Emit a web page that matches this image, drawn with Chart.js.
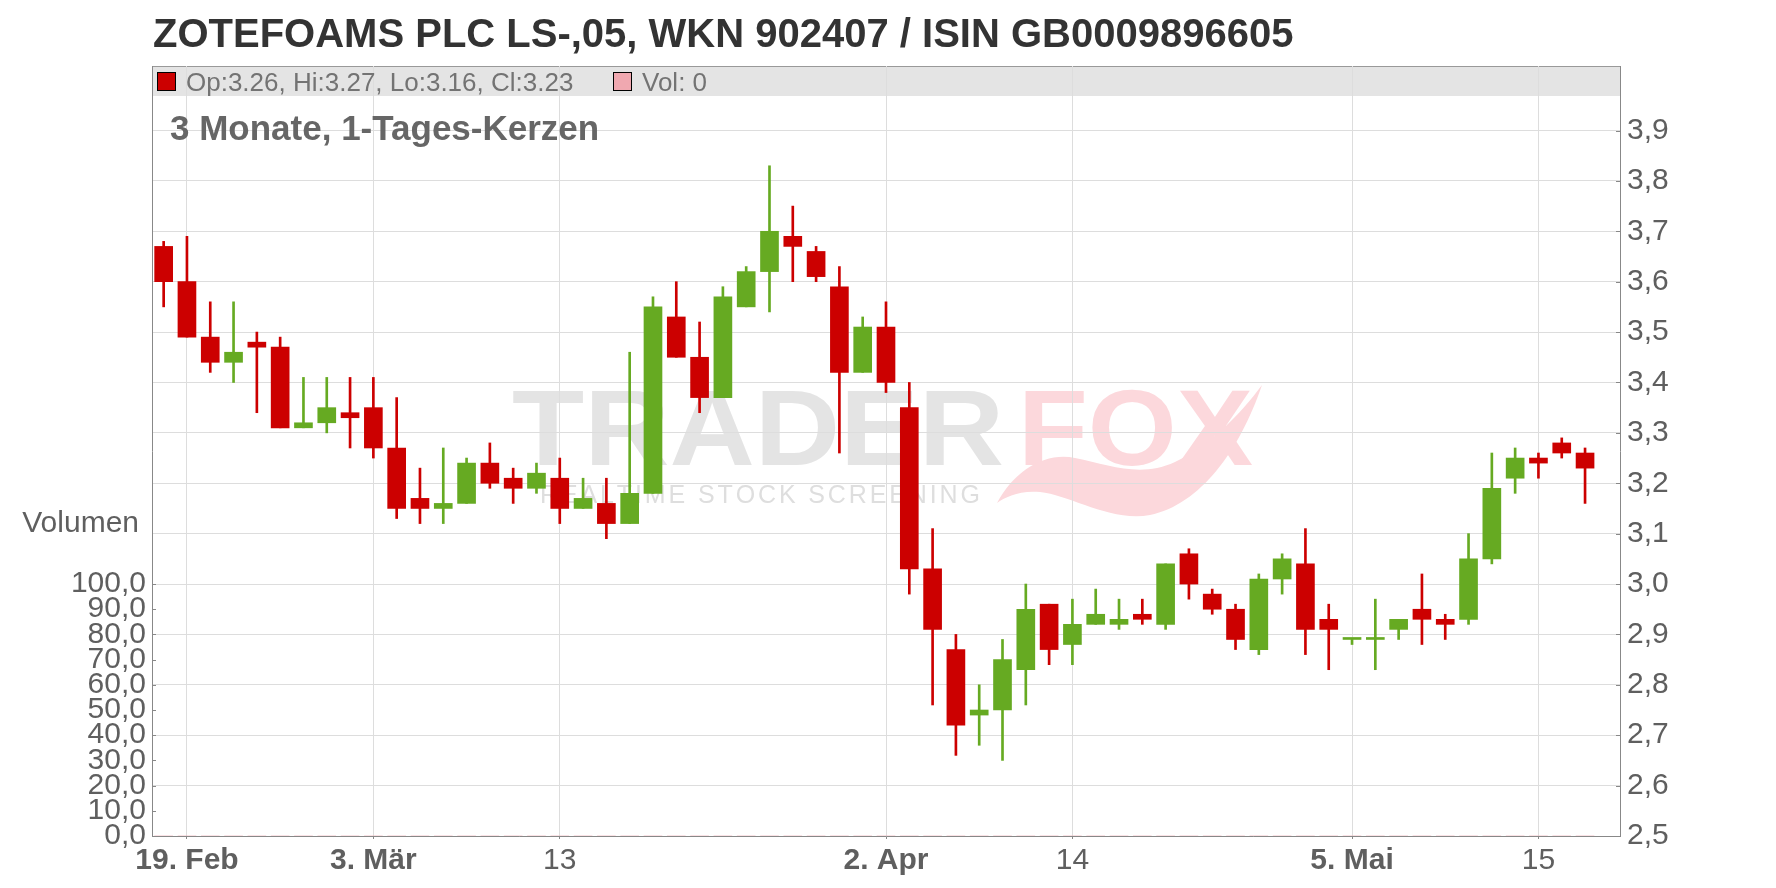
<!DOCTYPE html>
<html>
<head>
<meta charset="utf-8">
<script src="https://cdn.jsdelivr.net/npm/chart.js@4.4.1/dist/chart.umd.min.js"></script>
<style>
  html, body { margin: 0; padding: 0; background: #fff; }
  canvas { display: block; }
</style>
</head>
<body>
<canvas id="kerzen" width="1776" height="888"></canvas>
<script>
// Handelstage (18.02.2025 - 19.05.2025)
const dates = [
  "2025-02-18", "2025-02-19", "2025-02-20", "2025-02-21", "2025-02-24", "2025-02-25", "2025-02-26", "2025-02-27", "2025-02-28",
  "2025-03-03", "2025-03-04", "2025-03-05", "2025-03-06", "2025-03-07", "2025-03-10", "2025-03-11", "2025-03-12",
  "2025-03-13", "2025-03-14", "2025-03-17", "2025-03-18", "2025-03-19", "2025-03-20", "2025-03-21", "2025-03-24",
  "2025-03-25", "2025-03-26", "2025-03-27", "2025-03-28", "2025-03-31", "2025-04-01",
  "2025-04-02", "2025-04-03", "2025-04-04", "2025-04-07", "2025-04-08", "2025-04-09", "2025-04-10", "2025-04-11",
  "2025-04-14", "2025-04-15", "2025-04-16", "2025-04-17", "2025-04-22", "2025-04-23", "2025-04-24", "2025-04-25",
  "2025-04-28", "2025-04-29", "2025-04-30", "2025-05-02",
  "2025-05-05", "2025-05-06", "2025-05-07", "2025-05-08", "2025-05-09", "2025-05-12", "2025-05-13", "2025-05-14",
  "2025-05-15", "2025-05-16", "2025-05-19"
];

const opens = [
  3.67, 3.60, 3.49, 3.44, 3.48, 3.47, 3.31, 3.32, 3.34, 3.35,
  3.27, 3.17, 3.15, 3.16, 3.24, 3.21, 3.19, 3.21, 3.15, 3.16,
  3.12, 3.18, 3.53, 3.45, 3.37, 3.55, 3.62, 3.69, 3.66, 3.59,
  3.42, 3.51, 3.35, 3.03, 2.87, 2.74, 2.75, 2.83, 2.96, 2.88,
  2.92, 2.92, 2.94, 2.92, 3.06, 2.98, 2.95, 2.87, 3.01, 3.04,
  2.93, 2.89, 2.89, 2.91, 2.95, 2.93, 2.93, 3.05, 3.21, 3.25,
  3.28, 3.26
];
const highs = [
  3.68, 3.69, 3.56, 3.56, 3.50, 3.49, 3.41, 3.41, 3.41, 3.41,
  3.37, 3.23, 3.27, 3.25, 3.28, 3.23, 3.24, 3.25, 3.21, 3.21,
  3.46, 3.57, 3.60, 3.52, 3.59, 3.63, 3.83, 3.75, 3.67, 3.63,
  3.53, 3.56, 3.40, 3.11, 2.90, 2.80, 2.89, 3.00, 2.96, 2.97,
  2.99, 2.97, 2.97, 3.04, 3.07, 2.99, 2.96, 3.02, 3.06, 3.11,
  2.96, 2.89, 2.97, 2.93, 3.02, 2.94, 3.10, 3.26, 3.27, 3.26,
  3.29, 3.27
];
const lows = [
  3.55, 3.49, 3.42, 3.40, 3.34, 3.31, 3.31, 3.30, 3.27, 3.25,
  3.13, 3.12, 3.12, 3.16, 3.19, 3.16, 3.18, 3.12, 3.15, 3.09,
  3.12, 3.18, 3.45, 3.34, 3.37, 3.55, 3.54, 3.60, 3.60, 3.26,
  3.42, 3.38, 2.98, 2.76, 2.66, 2.68, 2.65, 2.76, 2.84, 2.84,
  2.92, 2.91, 2.92, 2.91, 2.97, 2.94, 2.87, 2.86, 2.98, 2.86,
  2.83, 2.88, 2.83, 2.89, 2.88, 2.89, 2.92, 3.04, 3.18, 3.21,
  3.25, 3.16
];
const closes = [
  3.60, 3.49, 3.44, 3.46, 3.47, 3.31, 3.32, 3.35, 3.33, 3.27,
  3.15, 3.15, 3.16, 3.24, 3.20, 3.19, 3.22, 3.15, 3.17, 3.12,
  3.18, 3.55, 3.45, 3.37, 3.57, 3.62, 3.70, 3.67, 3.61, 3.42,
  3.51, 3.40, 3.03, 2.91, 2.72, 2.75, 2.85, 2.95, 2.87, 2.92,
  2.94, 2.93, 2.93, 3.04, 3.00, 2.95, 2.89, 3.01, 3.05, 2.91,
  2.91, 2.89, 2.89, 2.93, 2.93, 2.92, 3.05, 3.19, 3.25, 3.24,
  3.26, 3.23
];
const volumes = [
  0, 0, 0, 0, 0, 0, 0, 0, 0, 0, 0, 0, 0, 0, 0, 0, 0, 0, 0, 0, 0,
  0, 0, 0, 0, 0, 0, 0, 0, 0, 0, 0, 0, 0, 0, 0, 0, 0, 0, 0, 0, 0,
  0, 0, 0, 0, 0, 0, 0, 0, 0, 0, 0, 0, 0, 0, 0, 0, 0, 0, 0, 0
];

// x-Achse
const tickDates = ["2025-02-19", "2025-03-03", "2025-03-13", "2025-04-02", "2025-04-14", "2025-05-05", "2025-05-15"];
const tickLabels = ["19. Feb", "3. Mär", "13", "2. Apr", "14", "5. Mai", "15"];
const tickBold = [true, true, false, true, false, true, false];

const RED = "#cc0000";
const GREEN = "#66aa22";
const GRID = "#dddddd";
const AXIS = "#888888";
const LABEL = "#5f5f5f";
const FONT = "'Liberation Sans', Arial, sans-serif";

Chart.defaults.font.family = FONT;

const labels = dates.concat([""]);
const colors = closes.map((c, i) => (c >= opens[i] ? GREEN : RED));
const fmt = v => v.toFixed(1).replace(".", ",");

function fitText(ctx, text, x, y, w) {
  const m = ctx.measureText(text).width;
  ctx.save();
  ctx.translate(x, y);
  ctx.scale(w / m, 1);
  ctx.fillText(text, 0, 0);
  ctx.restore();
}

function spreadText(ctx, text, x, y, w) {
  const chars = text.split("");
  const natural = chars.reduce((s, ch) => s + ctx.measureText(ch).width, 0);
  const gap = (w - natural) / (chars.length - 1);
  let cx = x;
  chars.forEach(ch => {
    ctx.fillText(ch, cx, y);
    cx += ctx.measureText(ch).width + gap;
  });
}

// hintergrund, kopfband, wasserzeichen, texte
const deko = {
  id: "deko",
  beforeDraw(chart) {
    const { ctx, chartArea: a } = chart;
    ctx.save();
    ctx.fillStyle = "#fff";
    ctx.fillRect(0, 0, chart.width, chart.height);

    ctx.fillStyle = "#e4e4e4";
    ctx.fillRect(a.left, a.top, a.right - a.left, 30);
    ctx.strokeStyle = "#999";
    ctx.lineWidth = 1;
    ctx.beginPath();
    ctx.moveTo(a.left, a.top + 0.5);
    ctx.lineTo(a.right, a.top + 0.5);
    ctx.stroke();

    // TRADERFOX logo
    ctx.font = "bold 108px " + FONT;
    ctx.textBaseline = "alphabetic";
    ctx.fillStyle = "#e4e4e4";
    fitText(ctx, "TRADER", 512, 465, 492);
    ctx.fillStyle = "#fcd8dc";
    fitText(ctx, "FOX", 1018, 465, 235);
    ctx.beginPath();
    ctx.moveTo(997, 503);
    ctx.bezierCurveTo(1015, 470, 1045, 452, 1075, 458);
    ctx.bezierCurveTo(1110, 465, 1140, 478, 1175, 462);
    ctx.bezierCurveTo(1210, 445, 1240, 415, 1262, 385);
    ctx.bezierCurveTo(1240, 450, 1200, 505, 1150, 515);
    ctx.bezierCurveTo(1110, 522, 1070, 495, 1040, 492);
    ctx.bezierCurveTo(1020, 490, 1005, 497, 997, 503);
    ctx.fill();
    ctx.font = "25px " + FONT;
    ctx.fillStyle = "#dedede";
    spreadText(ctx, "REALTIME STOCK SCREENING", 540, 503, 440);
    ctx.restore();
  },
  afterDraw(chart) {
    const { ctx, chartArea: a } = chart;
    const n = dates.length - 1;
    ctx.save();
    ctx.textBaseline = "alphabetic";

    ctx.fillStyle = "#333";
    ctx.font = "bold 40px " + FONT;
    ctx.fillText("ZOTEFOAMS PLC LS-,05, WKN 902407 / ISIN GB0009896605", 153, 47);

    // legende im kopfband
    ctx.lineWidth = 1;
    ctx.strokeStyle = "#000";
    ctx.fillStyle = colors[n];
    ctx.fillRect(157.5, 72.5, 18, 18);
    ctx.strokeRect(157.5, 72.5, 18, 18);
    ctx.fillStyle = "#f0a8b0";
    ctx.fillRect(613.5, 72.5, 18, 18);
    ctx.strokeRect(613.5, 72.5, 18, 18);
    ctx.fillStyle = "#737373";
    ctx.font = "26px " + FONT;
    ctx.fillText("Op:" + opens[n].toFixed(2) + ", Hi:" + highs[n].toFixed(2) +
      ", Lo:" + lows[n].toFixed(2) + ", Cl:" + closes[n].toFixed(2), 186, 91);
    ctx.fillText("Vol: " + volumes[n], 642, 91);

    ctx.fillStyle = "#666";
    ctx.font = "bold 35px " + FONT;
    ctx.fillText("3 Monate, 1-Tages-Kerzen", 170, 140);

    ctx.fillStyle = LABEL;
    ctx.font = "30px " + FONT;
    ctx.textAlign = "right";
    ctx.fillText("Volumen", 139, 532);

    // kleine innere tickmarken
    ctx.strokeStyle = AXIS;
    ctx.beginPath();
    chart.scales.y.ticks.forEach(t => {
      if (t.value < 3.95) {
        const py = Math.round(chart.scales.y.getPixelForValue(t.value)) + 0.5;
        ctx.moveTo(a.right - 4, py);
        ctx.lineTo(a.right, py);
      }
    });
    chart.scales.vol.ticks.forEach(t => {
      if (t.value <= 100) {
        const py = Math.round(chart.scales.vol.getPixelForValue(t.value)) + 0.5;
        ctx.moveTo(a.left, py);
        ctx.lineTo(a.left + 4, py);
      }
    });
    ctx.stroke();
    ctx.restore();
  }
};

new Chart(document.getElementById("kerzen"), {
  type: "bar",
  data: {
    labels: labels,
    datasets: [
      {
        label: "Docht",
        data: dates.map((d, i) => [lows[i], highs[i]]),
        backgroundColor: colors,
        barThickness: 2,
        grouped: false,
        order: 2,
        yAxisID: "y",
      },
      {
        label: "Kerze",
        data: dates.map((d, i) => [opens[i], closes[i]]),
        backgroundColor: colors,
        barThickness: 18,
        minBarLength: 2,
        grouped: false,
        order: 1,
        yAxisID: "y",
      },
      {
        label: "Volumen",
        data: volumes,
        backgroundColor: "#f0a8b0",
        barThickness: 18,
        grouped: false,
        order: 3,
        yAxisID: "vol",
      },
    ],
  },
  options: {
    responsive: false,
    devicePixelRatio: 1,
    animation: false,
    layout: { padding: { top: 66 } },
    plugins: {
      legend: { display: false },
      tooltip: { enabled: false },
    },
    scales: {
      x: {
        offset: true,
        grid: {
          offset: false,
          color: GRID,
          tickColor: AXIS,
          tickLength: 3,
        },
        border: { color: AXIS, width: 1 },
        ticks: {
          autoSkip: false,
          maxRotation: 0,
          padding: 4,
          color: LABEL,
          font: c => {
            const k = c.tick ? tickLabels.indexOf(c.tick.label) : -1;
            return { size: 30, weight: k >= 0 && tickBold[k] ? "bold" : "normal" };
          },
          callback(v) {
            const k = tickDates.indexOf(this.getLabelForValue(v));
            return k < 0 ? null : tickLabels[k];
          },
        },
        afterFit(s) { s.height = 52; },
      },
      y: {
        position: "right",
        min: 2.5,
        max: 4.028,
        grid: {
          color: c => (c.tick && c.tick.value < 3.95 ? GRID : "rgba(0,0,0,0)"),
          drawTicks: false,
        },
        border: { color: AXIS, width: 1 },
        ticks: {
          stepSize: 0.1,
          autoSkip: false,
          includeBounds: false,
          padding: 7,
          color: LABEL,
          font: { size: 30 },
          callback: v => (v < 3.95 ? fmt(v) : null),
        },
        afterFit(s) { s.width = 156; },
      },
      vol: {
        position: "left",
        min: 0,
        max: 305.6,
        grid: { display: false, drawTicks: false },
        border: { color: AXIS, width: 1 },
        ticks: {
          stepSize: 10,
          autoSkip: false,
          includeBounds: false,
          padding: 6,
          color: LABEL,
          font: { size: 30 },
          callback: v => (v <= 100.5 ? fmt(v) : null),
        },
        afterFit(s) { s.width = 152; },
      },
    },
  },
  plugins: [deko],
});
</script>
</body>
</html>
